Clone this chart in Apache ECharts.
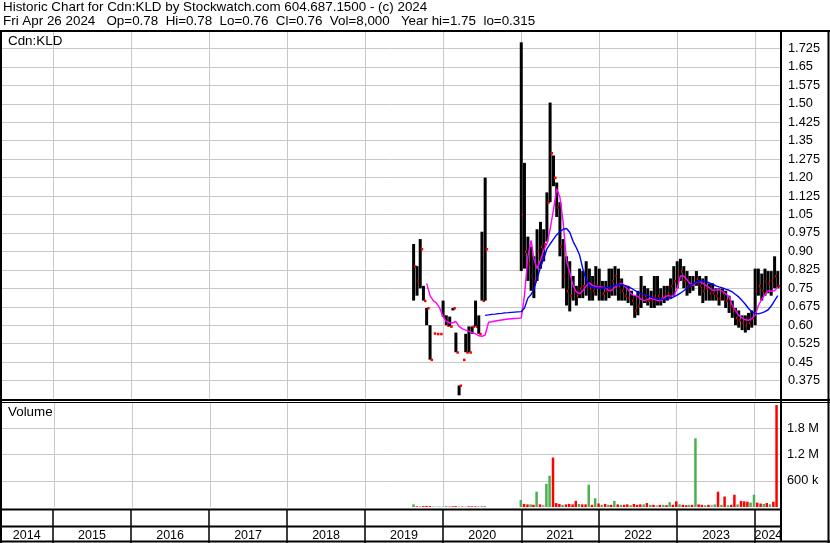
<!DOCTYPE html>
<html>
<head>
<meta charset="utf-8">
<title>Historic Chart for Cdn:KLD</title>
<script src="https://cdn.jsdelivr.net/npm/echarts@6/dist/echarts.min.js"></script>
<style>
  html, body { margin: 0; padding: 0; background: #fff; }
  #main { width: 830px; height: 543px; }
</style>
</head>
<body>
<div id="main"></div>
<script>
// price history sampled every half month (high / low / close), 2019 - 2024
const dates = [
  '2019-08-16','2019-09-01','2019-09-16','2019-10-01','2019-10-16','2019-11-01','2019-11-16','2019-12-01','2019-12-16',
  '2020-01-01','2020-01-16','2020-02-01','2020-02-16','2020-03-01','2020-03-16','2020-04-01','2020-04-16','2020-05-01','2020-05-16','2020-06-01','2020-06-16',
  '2020-07-01','2020-07-16','2020-08-01','2020-08-16','2020-09-01','2020-09-16','2020-10-01','2020-10-16','2020-11-01','2020-11-16','2020-12-01','2020-12-16',
  '2021-01-01','2021-01-16','2021-02-01','2021-02-16','2021-03-01','2021-03-16','2021-04-01','2021-04-16','2021-05-01','2021-05-16','2021-06-01','2021-06-16',
  '2021-07-01','2021-07-16','2021-08-01','2021-08-16','2021-09-01','2021-09-16','2021-10-01','2021-10-16','2021-11-01','2021-11-16','2021-12-01','2021-12-16',
  '2022-01-01','2022-01-16','2022-02-01','2022-02-16','2022-03-01','2022-03-16','2022-04-01','2022-04-16','2022-05-01','2022-05-16','2022-06-01','2022-06-16',
  '2022-07-01','2022-07-16','2022-08-01','2022-08-16','2022-09-01','2022-09-16','2022-10-01','2022-10-16','2022-11-01','2022-11-16','2022-12-01','2022-12-16',
  '2023-01-01','2023-01-16','2023-02-01','2023-02-16','2023-03-01','2023-03-16','2023-04-01','2023-04-16','2023-05-01','2023-05-16','2023-06-01','2023-06-16',
  '2023-07-01','2023-07-16','2023-08-01','2023-08-16','2023-09-01','2023-09-16','2023-10-01','2023-10-16','2023-11-01','2023-11-16','2023-12-01','2023-12-16',
  '2024-01-01','2024-01-16','2024-02-01','2024-02-16','2024-03-01','2024-03-16','2024-04-01','2024-04-16'
];

const highs = [
  0.93, 0.84, 0.95, 0.76, 0.67, 0.60, 0.567, 0.565, 0.565,
  0.70, 0.64, 0.635, 0.67, 0.57, 0.355, 0.46, 0.565, 0.595, 0.595, 0.70, 0.64,
  0.98, 1.20, null, null, null, null, null, null, null, null, null, null,
  1.75, 1.26, 0.96, 0.92, 0.88, 0.99, 1.02, 0.99, 1.14, 1.505, 1.29, 1.18,
  1.10, 0.95, 0.88, 0.86, 0.80, 0.76, 0.83, 0.82, 0.86, 0.83, 0.80, 0.84,
  0.83, 0.78, 0.78, 0.83, 0.83, 0.84, 0.83, 0.79, 0.76, 0.76, 0.74, 0.72,
  0.74, 0.80, 0.76, 0.75, 0.74, 0.80, 0.80, 0.75, 0.76, 0.76, 0.79, 0.84,
  0.86, 0.87, 0.84, 0.82, 0.80, 0.80, 0.82, 0.80, 0.79, 0.80, 0.77, 0.77,
  0.75, 0.75, 0.75, 0.74, 0.72, 0.70, 0.67, 0.66, 0.64, 0.64, 0.65, 0.66,
  0.83, 0.83, 0.81, 0.83, 0.82, 0.82, 0.88, 0.82
];

const lows = [
  0.70, 0.72, 0.75, 0.70, 0.60, 0.46, 0.567, 0.565, 0.565,
  0.635, 0.60, 0.595, 0.66, 0.49, 0.315, 0.46, 0.49, 0.49, 0.565, 0.595, 0.565,
  0.70, 0.70, null, null, null, null, null, null, null, null, null, null,
  0.82, 0.83, 0.78, 0.74, 0.71, 0.78, 0.83, 0.86, 0.94, 1.10, 1.165, 1.04,
  0.88, 0.75, 0.68, 0.656, 0.70, 0.68, 0.71, 0.71, 0.72, 0.70, 0.70, 0.72,
  0.70, 0.70, 0.70, 0.71, 0.72, 0.72, 0.70, 0.70, 0.70, 0.69, 0.68, 0.63,
  0.64, 0.67, 0.69, 0.68, 0.67, 0.67, 0.68, 0.68, 0.69, 0.70, 0.71, 0.72,
  0.75, 0.78, 0.75, 0.72, 0.73, 0.74, 0.76, 0.72, 0.69, 0.70, 0.70, 0.70,
  0.70, 0.68, 0.70, 0.67, 0.65, 0.63, 0.60, 0.59, 0.58, 0.57, 0.58, 0.59,
  0.60, 0.72, 0.70, 0.72, 0.73, 0.72, 0.75, 0.75
];

const closes = [
  0.84, 0.78, 0.91, 0.70, 0.67, 0.46, 0.567, 0.565, 0.565,
  0.635, 0.60, 0.595, 0.67, 0.49, 0.355, 0.46, 0.49, 0.49, 0.595, 0.595, 0.565,
  0.70, 0.91, null, null, null, null, null, null, null, null, null, null,
  1.05, 0.90, 0.85, 0.80, 0.78, 0.90, 0.92, 0.93, 1.10, 1.30, 1.20, 1.08,
  0.92, 0.80, 0.74, 0.72, 0.74, 0.72, 0.75, 0.76, 0.78, 0.75, 0.74, 0.76,
  0.76, 0.73, 0.74, 0.75, 0.78, 0.80, 0.76, 0.74, 0.72, 0.71, 0.70, 0.66,
  0.68, 0.72, 0.72, 0.70, 0.70, 0.72, 0.72, 0.71, 0.72, 0.73, 0.76, 0.78,
  0.80, 0.82, 0.78, 0.76, 0.76, 0.77, 0.79, 0.76, 0.74, 0.75, 0.73, 0.73,
  0.72, 0.71, 0.73, 0.70, 0.68, 0.66, 0.63, 0.62, 0.61, 0.60, 0.61, 0.63,
  0.74, 0.76, 0.74, 0.78, 0.77, 0.78, 0.80, 0.76
];

// short moving average (magenta)
const maShort = [
  null, null, null, null, 0.77, 0.72, 0.70, 0.69, 0.67,
  0.635, 0.615, 0.61, 0.61, 0.615, 0.595, 0.585, 0.58, 0.575, 0.57, 0.565, 0.557,
  0.555, 0.56, 0.612, 0.614, 0.617, 0.619, 0.621, 0.623, 0.625, 0.626, 0.627, 0.628,
  0.63, 0.72, 0.88, 0.945, 0.87, 0.83, 0.865, 0.905, 0.93, 0.99, 1.07, 1.155,
  1.12, 1.02, 0.86, 0.815, 0.76, 0.735, 0.728, 0.74, 0.76, 0.772, 0.762, 0.757,
  0.756, 0.755, 0.75, 0.74, 0.742, 0.755, 0.765, 0.77, 0.758, 0.745, 0.725, 0.72,
  0.718, 0.705, 0.70, 0.705, 0.71, 0.705, 0.70, 0.70, 0.712, 0.72, 0.718, 0.72,
  0.75, 0.80, 0.80, 0.785, 0.77, 0.762, 0.775, 0.778, 0.77, 0.762, 0.752, 0.742,
  0.743, 0.745, 0.738, 0.728, 0.715, 0.68, 0.66, 0.64, 0.63, 0.622, 0.62, 0.627,
  0.64, 0.68, 0.705, 0.725, 0.74, 0.738, 0.74, 0.755
];

// long moving average (blue)
const maLong = [
  null, null, null, null, null, null, null, null, null,
  null, null, null, null, null, null, null, null, null, null, null, null,
  null, 0.64, 0.642, 0.644, 0.645, 0.647, 0.648, 0.65, 0.651, 0.652, 0.653, 0.654,
  0.655, 0.67, 0.71, 0.725, 0.745, 0.79, 0.835, 0.87, 0.91, 0.93, 0.95, 0.968,
  0.98, 0.99, 0.993, 0.978, 0.94, 0.915, 0.885, 0.83, 0.785, 0.76, 0.754, 0.752,
  0.751, 0.75, 0.752, 0.755, 0.758, 0.762, 0.765, 0.765, 0.762, 0.757, 0.75, 0.742,
  0.733, 0.728, 0.724, 0.72, 0.715, 0.71, 0.707, 0.705, 0.705, 0.707, 0.708, 0.715,
  0.722, 0.73, 0.74, 0.75, 0.76, 0.768, 0.775, 0.78, 0.78, 0.778, 0.772, 0.767,
  0.76, 0.756, 0.752, 0.747, 0.742, 0.735, 0.725, 0.715, 0.70, 0.685, 0.668, 0.655,
  0.648, 0.646, 0.65, 0.655, 0.662, 0.678, 0.70, 0.72
];

// volume in thousands of shares, u = up day, d = down day, n = unchanged
const volumes = [
  60, 15, 15, 20, 25, 20, 10, 10, 10,
  15, 20, 10, 15, 20, 10, 10, 10, 15, 15, 15, 15,
  25, 20, null, null, null, null, null, null, null, null, null, null,
  160, 70, 60, 60, 50, 350, 60, 50, 530, 715, 1130, 90,
  70, 50, 60, 70, 60, 140, 70, 60, 60, 510, 50, 200,
  80, 50, 70, 50, 50, 140, 60, 50, 50, 60, 40, 70,
  50, 60, 60, 90, 50, 50, 40, 50, 50, 40, 110, 50,
  130, 60, 50, 40, 50, 50, 1570, 60, 50, 40, 50, 50,
  60, 350, 50, 240, 40, 50, 280, 60, 140, 130, 120, 100,
  280, 100, 80, 70, 90, 60, 120, 2330
];
const volDir = [
  'u','d','u','d','d','d','u','n','u',
  'n','u','d','d','d','u','d','n','d','d','d','n',
  'n','u','n','n','n','n','n','n','n','n','n','n',
  'u','d','d','u','d','u','d','n','u','u','d','d',
  'd','u','d','d','d','d','u','d','d','u','d','u',
  'd','u','d','u','d','u','d','u','d','d','u','d',
  'd','d','u','d','u','d','n','d','u','d','u','d',
  'd','u','d','d','u','d','u','d','d','u','d','n',
  'u','d','u','d','u','d','d','u','d','d','d','u',
  'u','d','d','u','d','u','d','d'
];

const yearLabels = ['2014','2015','2016','2017','2018','2019','2020','2021','2022','2023','2024'];
const yearLabelDates = ['2014-08-31','2015-07-02','2016-07-02','2017-07-02','2018-07-02','2019-07-02',
  '2020-07-02','2021-07-02','2022-07-02','2023-07-02','2024-03-03'];

const X_MIN = '2014-05-07';
const X_MAX = '2024-05-01';
const YEAR_MS = 365.25 * 86400000;
const FONT = 'Liberation Sans, Arial, sans-serif';
const GRAY = '#c8c8c8';
const volColors = { u: '#4caf50', d: '#ff0000', n: '#a8a8a8' };

const ts = d => new Date(d + 'T00:00:00').getTime();
const labelTs = yearLabelDates.map(ts);

const barData = [];
dates.forEach(function (d, i) {
  if (highs[i] != null) barData.push([d, highs[i], lows[i], closes[i]]);
});
const toLine = arr => dates.map((d, i) => [d, arr[i] == null ? '-' : arr[i]]);
const volData = [];
dates.forEach(function (d, i) {
  if (volumes[i]) volData.push({ value: [d, volumes[i]], itemStyle: { color: volColors[volDir[i]] } });
});

function timeAxis(gridIndex, lineColor, lineWidth) {
  return {
    type: 'time', gridIndex: gridIndex, min: X_MIN, max: X_MAX,
    minInterval: YEAR_MS, maxInterval: YEAR_MS,
    axisLine: { show: false }, axisTick: { show: false }, axisLabel: { show: false },
    splitLine: { show: true, showMinLine: false, showMaxLine: false, lineStyle: { color: lineColor, width: lineWidth } }
  };
}

function priceLabel(v) {
  let s = v.toFixed(3);
  if (s.charAt(s.length - 1) === '0') s = s.slice(0, -1);
  return s;
}

const headStyle = { fontSize: 13.4, fontWeight: 'normal', color: '#000', fontFamily: FONT };

const chart = echarts.init(document.getElementById('main'));
const option = {
  animation: false,
  backgroundColor: '#fff',
  textStyle: { fontFamily: FONT },
  title: [
    { text: 'Historic Chart for Cdn:KLD by Stockwatch.com 604.687.1500 - (c) 2024', left: 3, top: 1, padding: 0, textStyle: headStyle },
    { text: 'Fri Apr 26 2024   Op=0.78  Hi=0.78  Lo=0.76  Cl=0.76  Vol=8,000   Year hi=1.75  lo=0.315', left: 3, top: 15, padding: 0, textStyle: headStyle },
    { text: 'Cdn:KLD', left: 8, top: 35, padding: 0, textStyle: headStyle },
    { text: 'Volume', left: 8, top: 406, padding: 0, textStyle: headStyle }
  ],
  grid: [
    { left: 2, right: 49, top: 30, height: 369 },
    { left: 2, right: 49, top: 402, height: 105 },
    { left: 2, right: 49, top: 509, height: 34 }
  ],
  xAxis: [
    timeAxis(0, GRAY, 1),
    timeAxis(1, GRAY, 1),
    timeAxis(2, '#000', 1.5),
    {
      type: 'value', gridIndex: 2, position: 'bottom', min: ts(X_MIN), max: ts(X_MAX),
      axisLine: { show: false }, axisTick: { show: false }, splitLine: { show: false },
      axisLabel: {
        show: true, inside: true, margin: 1, customValues: labelTs,
        formatter: function (v) { const i = labelTs.indexOf(v); return i < 0 ? '' : yearLabels[i]; },
        color: '#000', fontSize: 12.5, fontFamily: FONT, verticalAlign: 'bottom'
      }
    }
  ],
  yAxis: [
    {
      type: 'value', gridIndex: 0, position: 'right', min: 0.3, max: 1.8, interval: 0.075,
      axisLine: { show: false }, axisTick: { show: false },
      splitLine: { show: true, showMinLine: false, showMaxLine: false, lineStyle: { color: GRAY, width: 1 } },
      axisLabel: { margin: 7, color: '#000', fontSize: 12.8, fontFamily: FONT, showMinLabel: false, showMaxLabel: false, formatter: priceLabel }
    },
    {
      type: 'value', gridIndex: 1, position: 'right', min: 0, max: 2400, interval: 600,
      axisLine: { show: false }, axisTick: { show: false },
      splitLine: { show: true, showMinLine: false, showMaxLine: false, lineStyle: { color: GRAY, width: 1 } },
      axisLabel: { margin: 6, color: '#000', fontSize: 12.8, fontFamily: FONT, showMinLabel: false, showMaxLabel: false,
        formatter: function (v) { return v >= 1000 ? (v / 1000).toFixed(1) + ' M' : v + ' k'; } }
    },
    { type: 'value', gridIndex: 2, show: false, min: 0, max: 1 }
  ],
  series: [
    {
      name: 'Price', type: 'custom', xAxisIndex: 0, yAxisIndex: 0, z: 2,
      encode: { x: 0, y: [1, 2, 3] },
      data: barData,
      renderItem: function (params, api) {
        const x = api.value(0);
        const hi = api.coord([x, api.value(1)]);
        const lo = api.coord([x, api.value(2)]);
        const cl = api.coord([x, api.value(3)]);
        return {
          type: 'group',
          children: [
            { type: 'line', shape: { x1: hi[0], y1: hi[1], x2: lo[0], y2: lo[1] }, style: { stroke: '#000', lineWidth: 3 } },
            { type: 'rect', shape: { x: cl[0] + 0.5, y: cl[1] - 1, width: 2.5, height: 2.5 }, style: { fill: '#ff0000' } }
          ]
        };
      }
    },
    {
      name: 'MA short', type: 'line', xAxisIndex: 0, yAxisIndex: 0, z: 3,
      data: toLine(maShort), showSymbol: false, symbol: 'none',
      lineStyle: { color: '#ff00ff', width: 1.4 }
    },
    {
      name: 'MA long', type: 'line', xAxisIndex: 0, yAxisIndex: 0, z: 4,
      data: toLine(maLong), showSymbol: false, symbol: 'none',
      lineStyle: { color: '#0000ff', width: 1.4 }
    },
    {
      name: 'Volume', type: 'bar', xAxisIndex: 1, yAxisIndex: 1,
      data: volData, barWidth: 2.5
    }
  ],
  graphic: [
    { type: 'line', z: 100, shape: { x1: 0, y1: 31, x2: 830, y2: 31 }, style: { stroke: '#000', lineWidth: 2 } },
    { type: 'line', z: 100, shape: { x1: 1, y1: 30, x2: 1, y2: 543 }, style: { stroke: '#000', lineWidth: 2 } },
    { type: 'line', z: 100, shape: { x1: 828.5, y1: 30, x2: 828.5, y2: 543 }, style: { stroke: '#000', lineWidth: 2 } },
    { type: 'line', z: 100, shape: { x1: 781, y1: 30, x2: 781, y2: 542 }, style: { stroke: '#000', lineWidth: 2 } },
    { type: 'line', z: 100, shape: { x1: 0, y1: 400, x2: 830, y2: 400 }, style: { stroke: '#000', lineWidth: 2 } },
    { type: 'line', z: 100, shape: { x1: 0, y1: 402.5, x2: 830, y2: 402.5 }, style: { stroke: '#000', lineWidth: 1 } },
    { type: 'line', z: 100, shape: { x1: 0, y1: 509.5, x2: 781, y2: 509.5 }, style: { stroke: '#000', lineWidth: 2 } },
    { type: 'line', z: 100, shape: { x1: 0, y1: 526.5, x2: 781, y2: 526.5 }, style: { stroke: '#000', lineWidth: 2 } },
    { type: 'line', z: 100, shape: { x1: 0, y1: 541.5, x2: 830, y2: 541.5 }, style: { stroke: '#000', lineWidth: 2 } }
  ]
};
chart.setOption(option);
</script>
</body>
</html>
